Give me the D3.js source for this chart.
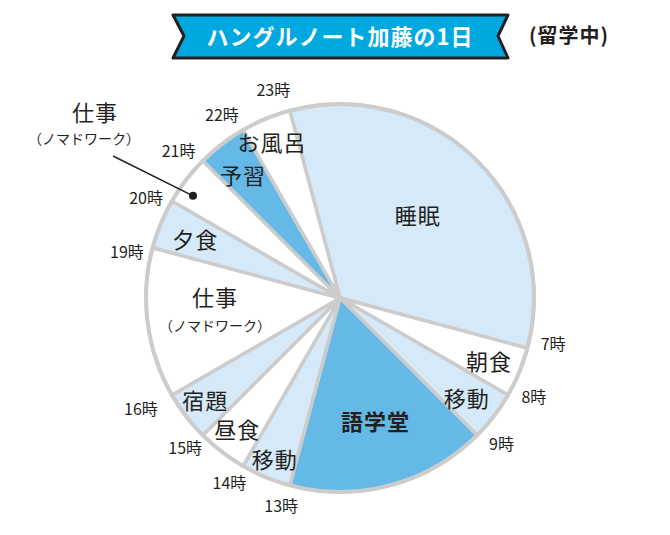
<!DOCTYPE html>
<html>
<head>
<meta charset="utf-8">
<script src="https://cdn.jsdelivr.net/npm/d3@7"></script>
<style>
  body { margin: 0; background: #fff; }
  svg text { font-family: "Noto Sans CJK JP", "Noto Sans", sans-serif; fill: #231f20; }
</style>
</head>
<body>
<svg width="670" height="535"></svg>
<script>
// 1日のスケジュール (開始時刻から時計回り)
const activities = ['睡眠', '朝食', '移動', '語学堂', '移動', '昼食', '宿題', '仕事', '夕食', '仕事', '予習', 'お風呂'];
const hours = [8, 1, 1, 4, 1, 1, 1, 3, 1, 1, 1, 1];
const tones = ['light', 'white', 'light', 'blue', 'light', 'white', 'light', 'white', 'light', 'white', 'blue', 'white'];
const subNotes = ['', '', '', '', '', '', '', '（ノマドワーク）', '', '（ノマドワーク）', '', ''];
const startHour = 23;
const hourTicks = [7, 8, 9, 13, 14, 15, 16, 19, 20, 21, 22, 23];

const svg = d3.select('svg');
const cx = 340, cy = 298, radius = 194;
const deg = Math.PI / 180;

const color = d3.scaleOrdinal()
    .domain(['light', 'white', 'blue'])
    .range(['#d5e9f8', '#ffffff', '#64b9e7']);

// 時刻 -> 角度 (0時が真上)
const hourAngle = d3.scaleLinear().domain([0, 24]).range([0, 2 * Math.PI]);

const pie = d3.pie()
    .sort(null)
    .value(d => d.h)
    .startAngle(hourAngle(startHour) - 2 * Math.PI)
    .endAngle(hourAngle(startHour));

const data = activities.map((name, i) => ({ name, h: hours[i], tone: tones[i], note: subNotes[i] }));
const arcs = pie(data);

const arc = d3.arc().innerRadius(0).outerRadius(radius);

// ---- title ribbon ----
const title = svg.append('g');
title.append('path')
    .attr('d', 'M173,15 L508,15 L498,36 L508,58 L173,58 L184,36 Z')
    .attr('fill', '#00a8e0')
    .attr('stroke', '#231f20')
    .attr('stroke-width', 3)
    .attr('stroke-linejoin', 'round');
title.append('text')
    .attr('x', 340).attr('y', 37)
    .attr('dy', '0.36em')
    .attr('text-anchor', 'middle')
    .style('font-size', '22px')
    .style('font-weight', 'bold')
    .style('fill', '#fff')
    .style('letter-spacing', '1px')
    .text('ハングルノート加藤の1日');
svg.append('text')
    .attr('x', 569).attr('y', 36)
    .attr('dy', '0.36em')
    .attr('text-anchor', 'middle')
    .style('font-size', '20px')
    .style('font-weight', 'bold')
    .style('letter-spacing', '1px')
    .text('(留学中)');

// ---- pie ----
const g = svg.append('g').attr('transform', `translate(${cx},${cy})`);

g.selectAll('path.slice')
    .data(arcs)
    .enter()
    .append('path')
    .attr('class', 'slice')
    .attr('d', arc)
    .attr('fill', d => color(d.data.tone))
    .attr('stroke', '#cccccc')
    .attr('stroke-width', 3.5)
    .attr('stroke-linejoin', 'round');

g.append('circle')
    .attr('r', radius)
    .attr('fill', 'none')
    .attr('stroke', '#cccccc')
    .attr('stroke-width', 4);

// ラベル配置 [半径, 角度ずれ(度)]
const labelPlace = [[113, -1.5], [162, 0.7], [162, 1], [129, -1], [175, -0.6], [167, 0.5],
    [170, 0], [125, 7.5], [156, -0.7], [null, 0], [156, -1], [169, -1.2]];

const polar = (r, a) => [r * Math.sin(a), -r * Math.cos(a)];

arcs.forEach((d, i) => {
    const [r, da] = labelPlace[i];
    if (r === null) return;
    const mid = (d.startAngle + d.endAngle) / 2 + da * deg;
    const [x, y] = polar(r, mid);
    g.append('text')
        .attr('x', x).attr('y', y)
        .attr('dy', '0.36em')
        .attr('text-anchor', 'middle')
        .style('font-size', '22px')
        .style('letter-spacing', '1px')
        .style('font-weight', d.data.name === '語学堂' ? 'bold' : 'normal')
        .text(d.data.name);
    if (d.data.note) {
        g.append('text')
            .attr('x', x).attr('y', y + 28)
            .attr('dy', '0.36em')
            .attr('text-anchor', 'middle')
            .style('font-size', '14px')
            .text(d.data.note);
    }
});

// 20時-21時 の仕事は外に引き出し
const small = arcs[9];
const dotPos = polar(179, (small.startAngle + small.endAngle) / 2 - 2.7 * deg);
g.append('line')
    .attr('x1', 113 - cx).attr('y1', 156 - cy)
    .attr('x2', dotPos[0]).attr('y2', dotPos[1])
    .attr('stroke', '#231f20')
    .attr('stroke-width', 1.5);
g.append('circle')
    .attr('cx', dotPos[0]).attr('cy', dotPos[1])
    .attr('r', 4)
    .attr('fill', '#231f20');
svg.append('text')
    .attr('x', 95).attr('y', 113)
    .attr('dy', '0.36em')
    .attr('text-anchor', 'middle')
    .style('font-size', '22px')
    .style('letter-spacing', '1px')
    .text(small.data.name);
svg.append('text')
    .attr('x', 84).attr('y', 139)
    .attr('dy', '0.36em')
    .attr('text-anchor', 'middle')
    .style('font-size', '14px')
    .text(small.data.note);

// ---- 時刻ラベル ----
g.selectAll('text.tick')
    .data(hourTicks)
    .enter()
    .append('text')
    .attr('class', 'tick')
    .attr('transform', h => {
        const lower = h >= 13 && h <= 16;
        const a = hourAngle(h) + (lower ? 0.8 : -2.8) * deg;
        const r = h === 16 ? 228 : (lower ? 216 : 218);
        const [x, y] = polar(r, a);
        return `translate(${x},${y})`;
    })
    .attr('dy', '0.36em')
    .attr('text-anchor', 'middle')
    .style('font-size', '16px')
    .text(h => h + '時');
</script>
</body>
</html>
